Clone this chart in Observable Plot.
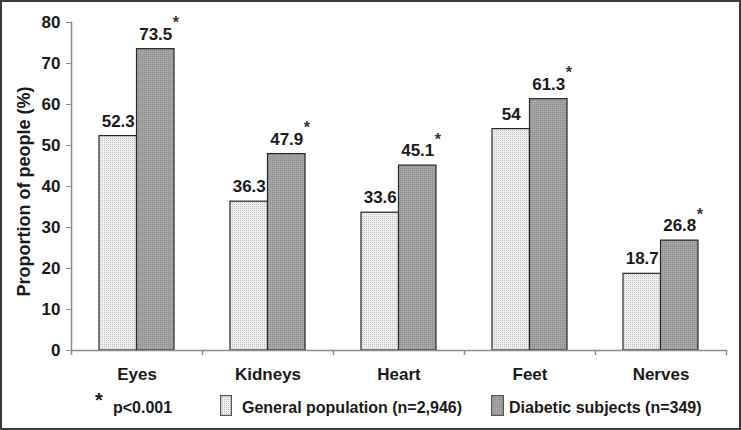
<!DOCTYPE html>
<html>
<head>
<meta charset="utf-8">
<script src="https://cdn.jsdelivr.net/npm/d3@7"></script>
<script src="https://cdn.jsdelivr.net/npm/@observablehq/plot@0.6"></script>
<style>
  html, body { margin: 0; padding: 0; background: #fff; }
  #wrap { position: relative; width: 741px; height: 430px; box-sizing: border-box; border: 2px solid #3c3c3c; background: #fff; overflow: hidden; font-family: "Liberation Sans", Arial, sans-serif; font-weight: bold; color: #1a1a1a; }
  #chart svg { display: block; }
  #chart g[aria-label="y-label"] text { letter-spacing: 1px; }
  .leg { position: absolute; font-size: 16px; white-space: nowrap; line-height: 1; }
  .sw { position: absolute; }
</style>
</head>
<body>
<svg width="0" height="0" style="position:absolute">
  <defs>
    <pattern id="patGen" width="2" height="2" patternUnits="userSpaceOnUse">
      <rect width="2" height="2" fill="#efefef"></rect>
      <rect width="1" height="1" fill="#c2c2c2"></rect>
    </pattern>
    <pattern id="patDia" width="2" height="2" patternUnits="userSpaceOnUse">
      <rect width="2" height="2" fill="#a6a6a6"></rect>
      <rect width="1" height="1" fill="#8a8a8a"></rect>
    </pattern>
  </defs>
</svg>
<div id="wrap">
  <div id="chart"></div>
  <div id="legend"></div>
</div>
<script>
const categories = ["Eyes", "Kidneys", "Heart", "Feet", "Nerves"];
const generalValues = [52.3, 36.3, 33.6, 54, 18.7];
const diabeticValues = [73.5, 47.9, 45.1, 61.3, 26.8];
const significant = [true, true, true, true, true];
const seriesNames = ["General population (n=2,946)", "Diabetic subjects (n=349)"];
const yTicks = [0, 10, 20, 30, 40, 50, 60, 70, 80];
const yLabel = "Proportion of people (%)";
const noteText = "p<0.001";

const general = categories.map((c, i) => ({category: c, value: generalValues[i], label: String(generalValues[i])}));
const diabetic = categories.map((c, i) => ({category: c, value: diabeticValues[i], label: String(diabeticValues[i]), sig: significant[i]}));

const W = 737, H = 387, mL = 69, mR = 13, mT = 20, mB = 39;
const bw = (W - mL - mR) / categories.length;
const barW = 37.5, offL = 28;
const gDx = offL + barW / 2 - bw / 2;
const dDx = offL + barW * 1.5 - bw / 2;
const axisColor = "#8c8c8c";
const ink = "#1a1a1a";
const font = "Liberation Sans, Arial, sans-serif";

const chart = Plot.plot({
  width: W, height: H,
  marginLeft: mL, marginRight: mR, marginTop: mT, marginBottom: mB,
  style: {fontFamily: font, background: "transparent", color: ink},
  x: {domain: categories, padding: 0},
  y: {domain: [0, 80]},
  marks: [
    Plot.axisY({ticks: yTicks, tickSize: 5, tickPadding: 6, fontSize: 17, fontWeight: "bold", stroke: axisColor, fill: ink, label: null}),
    Plot.barY(general, {x: "category", y: "value", fill: "url(#patGen)", stroke: "#262626", strokeWidth: 1.2,
      insetLeft: offL, insetRight: bw - offL - barW}),
    Plot.barY(diabetic, {x: "category", y: "value", fill: "url(#patDia)", stroke: "#262626", strokeWidth: 1.2,
      insetLeft: offL + barW, insetRight: bw - offL - 2 * barW}),
    Plot.ruleY([0], {stroke: axisColor, strokeWidth: 1.5}),
    Plot.frame({anchor: "left", stroke: axisColor, strokeWidth: 1.5}),
    Plot.ruleX(categories, {x: d => d, y1: 0, y2: -1.25, dx: -bw / 2, stroke: axisColor, strokeWidth: 1.5}),
    Plot.ruleX(categories.slice(-1), {x: d => d, y1: 0, y2: -1.25, dx: bw / 2, stroke: axisColor, strokeWidth: 1.5}),
    Plot.text(general, {x: "category", y: "value", text: "label", dx: gDx, dy: -15, fontSize: 17, fontWeight: "bold", fill: ink}),
    Plot.text(diabetic, {x: "category", y: "value", text: "label", dx: dDx, dy: -15, fontSize: 17, fontWeight: "bold", fill: ink}),
    Plot.text(diabetic.filter(d => d.sig), {x: "category", y: "value", text: () => "*", textAnchor: "start", dx: dDx + 17, dy: -26, fontSize: 16, fontWeight: "bold", fill: "#333"}),
    Plot.axisX({tickSize: 0, tickPadding: 17, fontSize: 17, fontWeight: "bold", fill: ink, label: null}),
    Plot.text([yLabel], {text: d => d, frameAnchor: "left", textAnchor: "middle", lineAnchor: "middle", dx: -47, dy: 5, rotate: -90,
      fontSize: 18, fontWeight: "bold", fill: ink, ariaLabel: "y-label"})
  ]
});
document.getElementById("chart").appendChild(chart);

const legend = document.getElementById("legend");
legend.innerHTML = `
  <div class="leg" style="left:93px; top:388px; font-size:20px;">*</div>
  <div class="leg" style="left:111px; top:398px;">${noteText}</div>
  <svg class="sw" style="left:218px; top:393px;" width="12" height="21"><rect x="0.6" y="0.6" width="10.8" height="19.8" fill="url(#patGen)" stroke="#555" stroke-width="1.2"/></svg>
  <div class="leg" style="left:240px; top:398px;">${seriesNames[0]}</div>
  <svg class="sw" style="left:489px; top:393px;" width="13" height="21"><rect x="0.6" y="0.6" width="11.8" height="19.8" fill="url(#patDia)" stroke="#555" stroke-width="1.2"/></svg>
  <div class="leg" style="left:507px; top:398px;">${seriesNames[1]}</div>
`;
</script>
</body>
</html>
